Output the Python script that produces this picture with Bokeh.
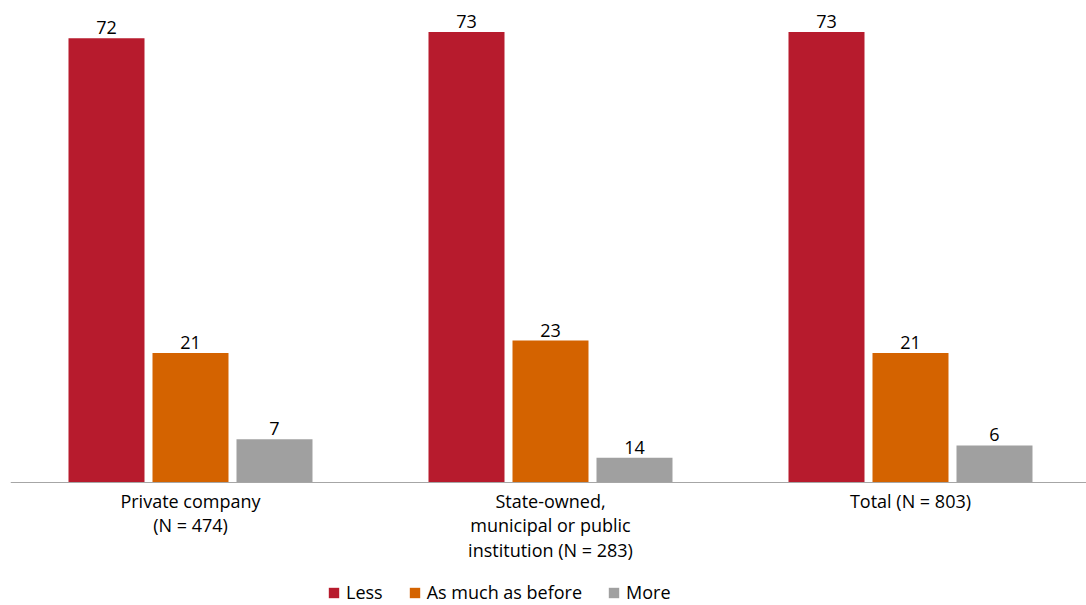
from bokeh.plotting import figure
from bokeh.models import ColumnDataSource, Range1d, FixedTicker, Legend, LegendItem, LabelSet
from bokeh.core.properties import value
from bokeh.embed import file_html
from bokeh.resources import INLINE

categories = ["Private company\n(N = 474)",
              "State-owned,\nmunicipal or public\ninstitution (N = 283)",
              "Total (N = 803)"]
series_names = ["Less", "As much as before", "More"]
# bar heights as drawn in the picture
less = [72, 73, 73]
same = [21, 23, 21]
more = [7, 4, 6]
# value labels as printed in the picture
less_labels = ["72", "73", "73"]
same_labels = ["21", "23", "21"]
more_labels = ["7", "14", "6"]
colors = ["#B71B2D", "#D46300", "#A0A0A0"]

FONT = "Open Sans"
FS = "18px"
PX_PER_UNIT = 6.17
p = figure(width=1086, height=605, output_backend="svg", toolbar_location=None,
           x_range=Range1d(-0.5, 2.4889),
           y_range=Range1d(-123 / PX_PER_UNIT, 482 / PX_PER_UNIT),
           min_border_left=10, min_border_right=0, min_border_top=0, min_border_bottom=0)
p.outline_line_color = None
p.grid.visible = False
p.yaxis.visible = False
p.background_fill_color = "white"
p.border_fill_color = "white"

offsets = [-84 / 360, 0, 84 / 360]
bw = 76 / 360
renderers = []
for vals, labs, off, col in zip([less, same, more], [less_labels, same_labels, more_labels],
                                offsets, colors):
    src = ColumnDataSource(dict(x=[i + off for i in range(len(vals))], top=vals, lab=labs))
    r = p.vbar(x="x", top="top", width=bw, source=src, fill_color=col, line_color=None)
    renderers.append(r)
    p.add_layout(LabelSet(x="x", y="top", text="lab", source=src, text_align="center",
                          text_baseline="bottom", y_offset=4, text_font=value(FONT),
                          text_font_size=FS, text_color="#000000"))

ax = p.xaxis[0]
ax.fixed_location = 0
ax.ticker = FixedTicker(ticks=[0, 1, 2])
ax.major_label_overrides = {0: categories[0], 1: categories[1], 2: categories[2]}
ax.major_tick_line_color = None
ax.minor_tick_line_color = None
ax.axis_line_color = "#A6A6A6"
ax.axis_line_width = 1
ax.major_label_standoff = 0
ax.major_label_text_font = FONT
ax.major_label_text_font_size = FS
ax.major_label_text_color = "#000000"
ax.major_label_text_line_height = 1.03

legend = Legend(items=[LegendItem(label=n, renderers=[r]) for n, r in zip(series_names, renderers)],
                orientation="horizontal", location=(317, 1), glyph_width=13, glyph_height=13,
                label_text_font=FONT, label_text_font_size=FS, label_text_color="#000000",
                spacing=25, padding=0, margin=0, border_line_color=None,
                background_fill_alpha=0, label_standoff=6)
p.add_layout(legend, "center")

open("out.html", "w").write(file_html(p, INLINE))
